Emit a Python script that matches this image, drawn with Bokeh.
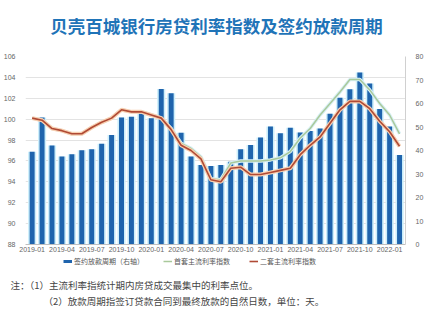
from bokeh.plotting import figure
from bokeh.layouts import column, row
from bokeh.models import (Range1d, LinearAxis, FixedTicker, Legend, LegendItem, ColumnDataSource)
from bokeh.core.properties import value
from bokeh.embed import file_html
from bokeh.resources import INLINE

months = ["2019-01","2019-02","2019-03","2019-04","2019-05","2019-06","2019-07","2019-08","2019-09","2019-10","2019-11","2019-12",
          "2020-01","2020-02","2020-03","2020-04","2020-05","2020-06","2020-07","2020-08","2020-09","2020-10","2020-11","2020-12",
          "2021-01","2021-02","2021-03","2021-04","2021-05","2021-06","2021-07","2021-08","2021-09","2021-10","2021-11","2021-12",
          "2022-01","2022-02"]
period = [39.5, 54.0, 42.1, 37.5, 38.4, 40.1, 40.5, 42.9, 46.6, 54.0, 54.4, 55.7,
          53.7, 66.2, 64.4, 47.6, 37.4, 33.8, 33.4, 33.8, 35.2, 40.5, 42.3, 45.5,
          50.2, 47.3, 49.7, 47.7, 48.3, 49.4, 55.6, 62.5, 66.1, 73.2, 68.5, 57.7,
          50.2, 38.1]
first_rate = [100.1, 99.9, 99.1, 98.9, 98.6, 98.6, 99.2, 99.7, 100.1, 100.9, 100.7, 100.7,
              100.4, 100.1, 99.1, 97.7, 97.2, 96.4, 94.3, 94.2, 95.8, 96.0, 96.0, 96.0,
              96.1, 96.3, 96.9, 98.2, 99.1, 100.4, 101.5, 102.6, 103.8, 103.8, 102.8, 101.5,
              100.4, 98.6]
second_rate = [100.1, 99.9, 99.1, 98.9, 98.6, 98.6, 99.2, 99.7, 100.1, 100.9, 100.7, 100.7,
               100.4, 100.1, 99.0, 97.5, 97.0, 96.2, 94.2, 94.0, 95.3, 95.4, 94.7, 94.7,
               94.9, 95.1, 95.3, 96.6, 97.5, 98.3, 99.6, 100.9, 101.7, 101.7, 101.0, 99.8,
               98.8, 97.4]
tick_idx = list(range(0, 38, 3))
title_text = "贝壳百城银行房贷利率指数及签约放款周期"
series_names = ["签约放款周期（右轴）", "首套主流利率指数", "二套主流利率指数"]
notes = ["注：（1）主流利率指统计期内房贷成交最集中的利率点位。",
         "（2）放款周期指签订贷款合同到最终放款的自然日数，单位：天。"]

CJK = "Noto Sans CJK SC"
BAR = "#1f64ad"
GREEN = "#a9c99b"
RED = "#b04a35"
x = list(range(len(months)))
src = ColumnDataSource(dict(x=x, period=period, first=first_rate, second=second_rate))

# ---------- title strip ----------
t = figure(width=432, height=40, output_backend="svg", toolbar_location=None,
           x_range=Range1d(0, 432), y_range=Range1d(40, 0),
           x_axis_type=None, y_axis_type=None, min_border=0, outline_line_color=None)
t.grid.visible = False
t.text(x=[216], y=[25], text=[title_text], text_font=value(CJK), text_font_size="17.5px",
       text_font_style="bold", text_color="#1f74b8", text_align="center", text_baseline="middle")

# ---------- main chart ----------
p = figure(frame_width=380, frame_height=188, output_backend="svg", toolbar_location=None,
           x_range=Range1d(-0.67, 37.6), y_range=Range1d(88, 106),
           min_border_left=25, min_border_right=27, min_border_top=16, min_border_bottom=12)
p.outline_line_color = None

p.extra_y_ranges = {"right": Range1d(0, 80)}
p.vbar(x="x", top="period", width=0.82, bottom=0, y_range_name="right", source=src,
       fill_color="#cdeffb", line_color=None)
p.vbar(x="x", top="period", width=0.5, bottom=0, y_range_name="right", source=src,
       fill_color=BAR, line_color=None)
p.line("x", "first", source=src, line_color="#d8f0f5", line_width=3.5)
p.line("x", "first", source=src, line_color=GREEN, line_width=1.5)
p.line("x", "second", source=src, line_color="#f7cfb0", line_width=4)
p.line("x", "second", source=src, line_color=RED, line_width=1.6)

yr = LinearAxis(y_range_name="right", ticker=FixedTicker(ticks=list(range(0, 81, 10))))
p.add_layout(yr, "right")

p.yaxis[0].ticker = FixedTicker(ticks=list(range(88, 107, 2)))
for ax in [p.yaxis[0], yr]:
    ax.major_label_text_font_size = "7px"
    ax.major_label_text_color = "#666666"
    ax.major_tick_line_color = None
    ax.minor_tick_line_color = None
    ax.axis_line_color = "#d0d0d0"
    ax.major_label_standoff = 4
p.yaxis[0].axis_line_color = None

p.xaxis.ticker = FixedTicker(ticks=tick_idx)
p.xaxis.major_label_overrides = {i: months[i] for i in tick_idx}
p.xaxis.major_label_text_font_size = "7px"
p.xaxis.major_label_text_color = "#666666"
p.xaxis.major_tick_line_color = None
p.xaxis.major_tick_out = 0
p.xaxis.major_tick_in = 0
p.xaxis.minor_tick_line_color = None
p.xaxis.axis_line_color = "#bfbfbf"
p.xaxis.major_label_standoff = 2

p.xgrid.grid_line_color = None
p.ygrid.grid_line_color = "#e3e3e3"
p.ygrid.ticker = FixedTicker(ticks=list(range(88, 107, 2)))

# ---------- legend + notes strip ----------
q = figure(width=432, height=56, output_backend="svg", toolbar_location=None,
           x_range=Range1d(0, 432), y_range=Range1d(56, 0),
           x_axis_type=None, y_axis_type=None, min_border=0, outline_line_color=None)
q.grid.visible = False
d_bar = q.line([-50, -40], [10, 10], line_color=BAR, line_width=3)
d_g = q.line([-50, -40], [10, 10], line_color=GREEN, line_width=1.5)
d_r = q.line([-50, -40], [10, 10], line_color=RED, line_width=1.6)
legend = Legend(items=[LegendItem(label=series_names[0], renderers=[d_bar]),
                       LegendItem(label=series_names[1], renderers=[d_g]),
                       LegendItem(label=series_names[2], renderers=[d_r])],
                orientation="horizontal", location=(63, 46),
                label_text_font=CJK, label_text_font_size="7px", label_text_color="#555555",
                glyph_width=9, glyph_height=6, label_standoff=2, spacing=19, label_height=8,
                padding=1, margin=0, border_line_color=None, background_fill_alpha=0)
q.add_layout(legend, "center")
q.text(x=[10, 43], y=[28, 44], text=notes, text_font=value(CJK), text_font_size="9.5px",
       text_color="#444444", text_baseline="middle")

layout = column(row(t), p, row(q), spacing=0)
open("out.html", "w").write(file_html(layout, INLINE))
